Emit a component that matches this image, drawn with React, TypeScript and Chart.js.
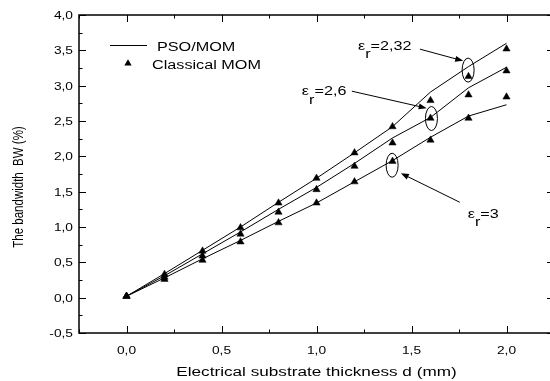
import React, { useEffect, useRef } from "react";
import { Chart, registerables } from "chart.js";

Chart.register(...registerables);

// ---------- data ----------
const thickness = [0, 0.2, 0.4, 0.6, 0.8, 1.0, 1.2, 1.4, 1.6, 1.8, 2.0];
const psoEr232 = [0.02, 0.34, 0.67, 1.0, 1.35, 1.69, 2.05, 2.42, 2.91, 3.27, 3.6];
const psoEr26 = [0.02, 0.31, 0.62, 0.93, 1.25, 1.56, 1.9, 2.26, 2.55, 2.97, 3.26];
const psoEr3 = [0.02, 0.28, 0.55, 0.81, 1.08, 1.34, 1.64, 1.94, 2.27, 2.57, 2.73];
const momEr232 = [0.02, 0.33, 0.66, 0.99, 1.34, 1.69, 2.05, 2.42, 2.79, 3.13, 3.52];
const momEr26 = [0.02, 0.29, 0.59, 0.9, 1.21, 1.53, 1.86, 2.19, 2.54, 2.87, 3.21];
const momEr3 = [0.02, 0.26, 0.53, 0.79, 1.06, 1.34, 1.64, 1.93, 2.23, 2.54, 2.84];

const xMajorTicks = [0, 0.5, 1.0, 1.5, 2.0];
const xMinorTicks = [-0.25, 0.25, 0.75, 1.25, 1.75, 2.25];
const yMajorTicks = [-0.5, 0, 0.5, 1.0, 1.5, 2.0, 2.5, 3.0, 3.5, 4.0];
const yMinorTicks = [-0.25, 0.25, 0.75, 1.25, 1.75, 2.25, 2.75, 3.25, 3.75];

const xTitle = "Electrical substrate thickness d (mm)";
const yTitle = "The bandwidth  BW (%)";
const legendLine = "PSO/MOM";
const legendMarker = "Classical MOM";

// annotations (data coordinates)
const labels = [
  { value: "=2,32", x: 1.218, y: 3.51 },
  { value: "=2,6", x: 0.923, y: 2.865 },
  { value: "=3", x: 1.796, y: 1.13 },
];
const ellipses = [
  { x: 1.798, y: 3.22 },
  { x: 1.605, y: 2.535 },
  { x: 1.398, y: 1.874 },
];
const arrows = [
  { x1: 1.544, y1: 3.517, x2: 1.772, y2: 3.351 },
  { x1: 1.186, y1: 2.922, x2: 1.58, y2: 2.681 },
  { x1: 1.754, y1: 1.35, x2: 1.444, y2: 1.761 },
];

const fmt = (v: number) => v.toFixed(1).replace(".", ",");

const W = 560;
const H = 381;
const FONT = "'Liberation Sans', Arial, sans-serif";

function sText(
  ctx: CanvasRenderingContext2D,
  text: string,
  x: number,
  y: number,
  sx: number,
  align: "left" | "center" | "right"
) {
  ctx.save();
  ctx.textAlign = "left";
  ctx.textBaseline = "alphabetic";
  const w = ctx.measureText(text).width * sx;
  const x0 = align === "left" ? x : align === "center" ? x - w / 2 : x - w;
  ctx.translate(x0, y);
  ctx.scale(sx, 1);
  ctx.fillText(text, 0, 0);
  ctx.restore();
  return w;
}

function triangle(ctx: CanvasRenderingContext2D, x: number, y: number, r: number) {
  ctx.beginPath();
  let rad = 0;
  ctx.moveTo(x + Math.sin(rad) * r, y - Math.cos(rad) * r);
  rad += (2 * Math.PI) / 3;
  ctx.lineTo(x + Math.sin(rad) * r, y - Math.cos(rad) * r);
  rad += (2 * Math.PI) / 3;
  ctx.lineTo(x + Math.sin(rad) * r, y - Math.cos(rad) * r);
  ctx.closePath();
  ctx.fill();
}

const decorPlugin = {
  id: "decor",
  afterDatasetsDraw(chart: any) {
    const ctx: CanvasRenderingContext2D = chart.ctx;
    const xs = chart.scales.x;
    const ys = chart.scales.y;
    const { left, right, top, bottom } = chart.chartArea;
    const px = (v: number) => xs.getPixelForValue(v);
    const py = (v: number) => ys.getPixelForValue(v);

    ctx.save();
    ctx.strokeStyle = "#000";
    ctx.fillStyle = "#000";

    // frame
    ctx.lineWidth = 1.5;
    ctx.strokeRect(left, top, right - left, bottom - top);

    // inward ticks
    ctx.lineWidth = 1;
    ctx.beginPath();
    const maj = 7;
    const min = 3.5;
    xMajorTicks.forEach((v) => {
      const x = Math.round(px(v)) + 0.5;
      ctx.moveTo(x, bottom);
      ctx.lineTo(x, bottom - maj);
      ctx.moveTo(x, top);
      ctx.lineTo(x, top + maj);
    });
    xMinorTicks.forEach((v) => {
      const x = Math.round(px(v)) + 0.5;
      ctx.moveTo(x, bottom);
      ctx.lineTo(x, bottom - min);
      ctx.moveTo(x, top);
      ctx.lineTo(x, top + min);
    });
    yMajorTicks.forEach((v) => {
      const y = Math.round(py(v)) + 0.5;
      ctx.moveTo(left, y);
      ctx.lineTo(left + maj, y);
      ctx.moveTo(right, y);
      ctx.lineTo(right - maj, y);
    });
    yMinorTicks.forEach((v) => {
      const y = Math.round(py(v)) + 0.5;
      ctx.moveTo(left, y);
      ctx.lineTo(left + min, y);
      ctx.moveTo(right, y);
      ctx.lineTo(right - min, y);
    });
    ctx.stroke();

    // tick labels
    ctx.font = `11px ${FONT}`;
    yMajorTicks.forEach((v) => {
      sText(ctx, fmt(v), left - 6, py(v) + 4, 1.25, "right");
    });
    xMajorTicks.forEach((v) => {
      sText(ctx, fmt(v), px(v), 354, 1.25, "center");
    });

    // axis titles
    ctx.font = `12px ${FONT}`;
    sText(ctx, xTitle, (left + right) / 2, 375.5, 1.43, "center");
    ctx.save();
    ctx.font = `11.5px ${FONT}`;
    ctx.translate(23, 187);
    ctx.rotate(-Math.PI / 2);
    ctx.scale(1, 1.2);
    ctx.textAlign = "center";
    ctx.textBaseline = "alphabetic";
    ctx.fillText(yTitle, 0, 0);
    ctx.restore();

    // legend
    ctx.lineWidth = 1;
    ctx.beginPath();
    ctx.moveTo(110, 45.5);
    ctx.lineTo(147, 45.5);
    ctx.stroke();
    ctx.font = `12px ${FONT}`;
    sText(ctx, legendLine, 157, 51, 1.35, "left");
    triangle(ctx, 128, 63.5, 4.2);
    sText(ctx, legendMarker, 152, 68.5, 1.35, "left");

    // annotation labels  (epsilon + subscript r)
    labels.forEach((l) => {
      const x = px(l.x);
      const y = py(l.y);
      ctx.font = `12px ${FONT}`;
      const w1 = sText(ctx, "\u03b5", x, y, 1.35, "left");
      const w2 = sText(ctx, "r", x + w1, y + 8.5, 1.35, "left");
      sText(ctx, l.value, x + w1 + w2, y, 1.35, "left");
    });

    // ellipses
    ctx.lineWidth = 1;
    ellipses.forEach((e) => {
      ctx.beginPath();
      ctx.ellipse(px(e.x), py(e.y), 6, 12, 0, 0, Math.PI * 2);
      ctx.stroke();
    });

    // arrows
    arrows.forEach((a) => {
      const x1 = px(a.x1);
      const y1 = py(a.y1);
      const x2 = px(a.x2);
      const y2 = py(a.y2);
      const ang = Math.atan2(y2 - y1, x2 - x1);
      const len = 8;
      const hw = 3;
      ctx.beginPath();
      ctx.moveTo(x1, y1);
      ctx.lineTo(x2 - Math.cos(ang) * len * 0.8, y2 - Math.sin(ang) * len * 0.8);
      ctx.stroke();
      ctx.beginPath();
      ctx.moveTo(x2, y2);
      ctx.lineTo(
        x2 - Math.cos(ang) * len - Math.sin(ang) * hw,
        y2 - Math.sin(ang) * len + Math.cos(ang) * hw
      );
      ctx.lineTo(
        x2 - Math.cos(ang) * len + Math.sin(ang) * hw,
        y2 - Math.sin(ang) * len - Math.cos(ang) * hw
      );
      ctx.closePath();
      ctx.fill();
    });

    ctx.restore();
  },
};

const toPts = (ys: number[]) => thickness.map((x, i) => ({ x, y: ys[i] }));

export default function App() {
  const ref = useRef<HTMLCanvasElement | null>(null);

  useEffect(() => {
    if (!ref.current) return;
    const lineDs = (label: string, ys: number[]) => ({
      label,
      data: toPts(ys),
      borderColor: "#000",
      borderWidth: 1,
      pointRadius: 0,
      showLine: true,
      fill: false,
      tension: 0,
    });
    const markDs = (label: string, ys: number[]) => ({
      label,
      data: toPts(ys),
      showLine: false,
      pointStyle: "triangle",
      pointRadius: 4.2,
      backgroundColor: "#000",
      borderColor: "#000",
      borderWidth: 0.5,
    });
    const chart = new Chart(ref.current, {
      type: "scatter",
      data: {
        datasets: [
          lineDs("PSO/MOM εr=2,32", psoEr232),
          lineDs("PSO/MOM εr=2,6", psoEr26),
          lineDs("PSO/MOM εr=3", psoEr3),
          markDs("Classical MOM εr=2,32", momEr232),
          markDs("Classical MOM εr=2,6", momEr26),
          markDs("Classical MOM εr=3", momEr3),
        ] as any,
      },
      options: {
        animation: false,
        responsive: false,
        maintainAspectRatio: false,
        devicePixelRatio: 1,
        layout: {
          autoPadding: false,
          padding: { left: 79, top: 15, right: W - 554, bottom: H - 333 },
        },
        plugins: {
          legend: { display: false },
          tooltip: { enabled: false },
        },
        scales: {
          x: { type: "linear", min: -0.25, max: 2.25, display: false },
          y: { type: "linear", min: -0.5, max: 4.0, display: false },
        },
      } as any,
      plugins: [decorPlugin],
    });
    return () => chart.destroy();
  }, []);

  return (
    <div
      style={{
        position: "fixed",
        left: 0,
        top: 0,
        width: 550,
        height: 381,
        overflow: "hidden",
        background: "#fff",
      }}
    >
      <canvas ref={ref} width={W} height={H} style={{ display: "block", width: W, height: H }} />
    </div>
  );
}
